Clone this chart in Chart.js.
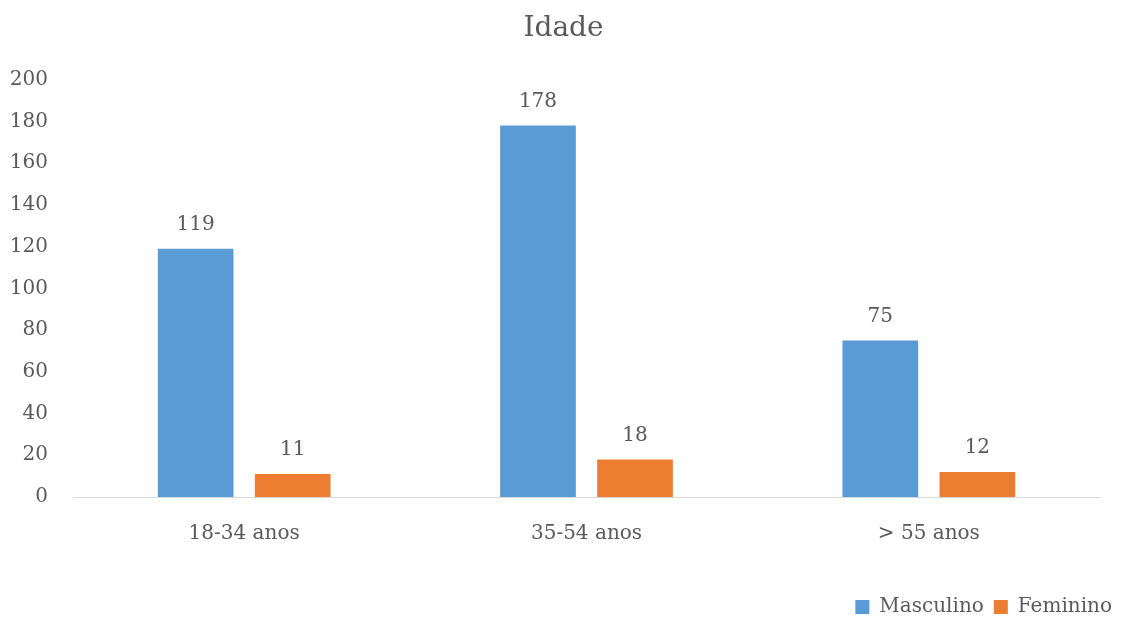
<!DOCTYPE html>
<html>
<head>
<meta charset="utf-8">
<script src="https://cdn.jsdelivr.net/npm/chart.js@4/dist/chart.umd.min.js"></script>
<style>
  html, body { margin: 0; padding: 0; background: #fff; }
  #wrap { width: 1122px; height: 619px; }
</style>
</head>
<body>
<div id="wrap"><canvas id="myChart"></canvas></div>
<script>
const categories = ['18-34 anos', '35-54 anos', '> 55 anos'];
const masculino = [119, 178, 75];
const feminino = [11, 18, 12];
const yTicks = [0, 20, 40, 60, 80, 100, 120, 140, 160, 180, 200];

const FONT = "'DejaVu Serif', serif";
const TEXT = '#595959';

// draws the value over each bar
const valueLabels = {
  id: 'valueLabels',
  afterDatasetsDraw(chart) {
    const ctx = chart.ctx;
    ctx.save();
    ctx.font = '20px ' + FONT;
    ctx.fillStyle = TEXT;
    ctx.textAlign = 'center';
    ctx.textBaseline = 'bottom';
    chart.data.datasets.forEach((ds, i) => {
      chart.getDatasetMeta(i).data.forEach((bar, j) => {
        ctx.fillText(ds.data[j], bar.x, bar.y - 14);
      });
    });
    ctx.restore();
  }
};

const config = {
  type: 'bar',
  data: {
    labels: categories,
    datasets: [
      {
        label: 'Masculino',
        data: masculino,
        backgroundColor: '#5b9bd5',
        categoryPercentage: 0.567,
        barPercentage: 0.78
      },
      {
        label: 'Feminino',
        data: feminino,
        backgroundColor: '#ed7d31',
        categoryPercentage: 0.567,
        barPercentage: 0.78
      }
    ]
  },
  options: {
    responsive: true,
    maintainAspectRatio: false,
    animation: false,
    layout: { padding: { left: 5, right: 0, top: 8, bottom: -8 } },
    plugins: {
      title: {
        display: true,
        text: 'Idade',
        color: TEXT,
        font: { family: FONT, size: 28, weight: 'normal' },
        padding: { top: 4, bottom: 34 }
      },
      legend: {
        position: 'bottom',
        align: 'end',
        labels: {
          color: TEXT,
          font: { family: FONT, size: 20 },
          boxWidth: 14,
          boxHeight: 14,
          padding: 10
        }
      },
      tooltip: { enabled: false }
    },
    scales: {
      x: {
        grid: { display: false, drawTicks: false },
        border: { display: true, color: '#d9d9d9', width: 1 },
        ticks: { color: TEXT, font: { family: FONT, size: 20 }, padding: 25 },
        afterFit(scale) { scale.height = 90; }
      },
      y: {
        min: 0,
        max: 200,
        afterBuildTicks(scale) { scale.ticks = yTicks.map(v => ({ value: v })); },
        grid: { display: false, drawTicks: false },
        border: { display: false },
        ticks: { color: TEXT, font: { family: FONT, size: 20 }, padding: 25 },
        afterFit(scale) { scale.width = 68; }
      },
      // empty strip on the right so the plot stops short of the edge
      yRight: {
        position: 'right',
        display: true,
        grid: { display: false, drawTicks: false },
        border: { display: false },
        ticks: { display: false },
        afterFit(scale) { scale.width = 22; }
      }
    }
  },
  plugins: [valueLabels]
};

new Chart(document.getElementById('myChart'), config);
</script>
</body>
</html>
